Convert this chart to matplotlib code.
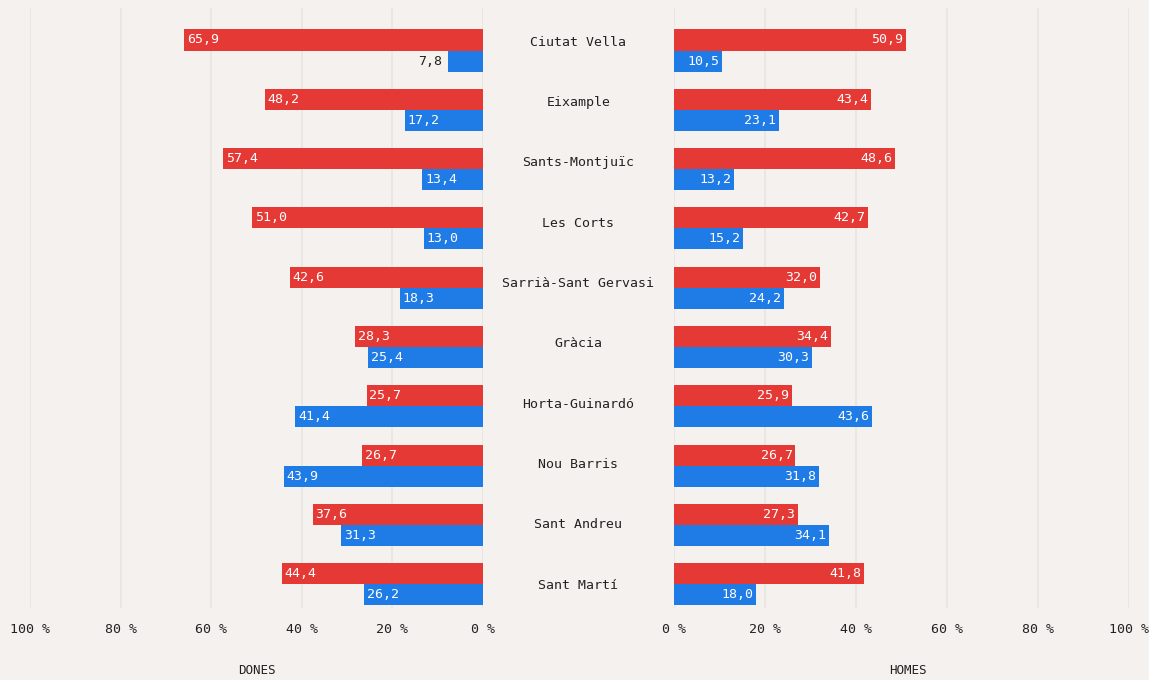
import numpy as np
import matplotlib
matplotlib.use('Agg')
import matplotlib.pyplot as plt

districts = ['Ciutat Vella', 'Eixample', 'Sants-Montjuïc', 'Les Corts',
             'Sarrià-Sant Gervasi', 'Gràcia', 'Horta-Guinardó', 'Nou Barris',
             'Sant Andreu', 'Sant Martí']
dones_red = [65.9, 48.2, 57.4, 51.0, 42.6, 28.3, 25.7, 26.7, 37.6, 44.4]
dones_blue = [7.8, 17.2, 13.4, 13.0, 18.3, 25.4, 41.4, 43.9, 31.3, 26.2]
homes_red = [50.9, 43.4, 48.6, 42.7, 32.0, 34.4, 25.9, 26.7, 27.3, 41.8]
homes_blue = [10.5, 23.1, 13.2, 15.2, 24.2, 30.3, 43.6, 31.8, 34.1, 18.0]
ticks = [0, 20, 40, 60, 80, 100]

RED = '#e53935'
BLUE = '#1f7be6'
BG = '#f4f1ee'
GRID = '#e9e5e1'
TXT = '#222222'
FONT = 'DejaVu Sans Mono'
W, H = 1149, 680

plt.rcParams['font.family'] = FONT
fig = plt.figure(figsize=(W / 100, H / 100), dpi=100, facecolor=BG)

# axes rectangles in pixel units
top_px, bot_px = 8, 608
ax_l = fig.add_axes([30 / W, 1 - bot_px / H, (483 - 30) / W, (bot_px - top_px) / H])
ax_r = fig.add_axes([674 / W, 1 - bot_px / H, (1129 - 674) / W, (bot_px - top_px) / H])
ax_m = fig.add_axes([483 / W, 1 - bot_px / H, (674 - 483) / W, (bot_px - top_px) / H])

y = np.arange(len(districts))
bh = 0.355


def fmt(v):
    return f'{v:.1f}'.replace('.', ',')


def panel(ax, red, blue, left):
    ax.set_facecolor(BG)
    for s in ax.spines.values():
        s.set_visible(False)
    ax.set_xlim(100, 0) if left else ax.set_xlim(0, 100)
    ax.set_ylim(9.40, -0.717)
    ax.set_xticks(ticks)
    ax.set_xticklabels([f'{t} %' for t in ticks], fontsize=9.5, color=TXT)
    ax.tick_params(axis='x', length=0, pad=11)
    ax.set_yticks([])
    ax.grid(axis='x', color=GRID, linewidth=1.2)
    ax.set_axisbelow(True)
    ax.barh(y - bh / 2, red, height=bh, color=RED)
    ax.barh(y + bh / 2, blue, height=bh, color=BLUE)
    for vals, off in ((red, -bh / 2), (blue, bh / 2)):
        for yi, v in zip(y, vals):
            if v < 9:
                ax.text(v + 1.2, yi + off, fmt(v), ha='right' if left else 'left',
                        va='center', fontsize=9.5, color=TXT)
            else:
                ax.text(v - 0.6, yi + off, fmt(v), ha='left' if left else 'right',
                        va='center', fontsize=9.5, color='white')


panel(ax_l, dones_red, dones_blue, True)
panel(ax_r, homes_red, homes_blue, False)

# district names sit in their own column, spaced slightly apart from the bars
ax_m.set_facecolor(BG)
ax_m.axis('off')
ax_m.set_ylim(9.381, -0.564)
ax_m.set_xlim(0, 1)
for yi, name in zip(y, districts):
    ax_m.text(0.5, yi, name, ha='center', va='center', fontsize=9.5, color=TXT)

fig.text(257 / W, 1 - 670 / H, 'DONES', ha='center', va='center', fontsize=9, color=TXT)
fig.text(908 / W, 1 - 670 / H, 'HOMES', ha='center', va='center', fontsize=9, color=TXT)

fig.savefig('out.png', dpi=100, facecolor=BG)
